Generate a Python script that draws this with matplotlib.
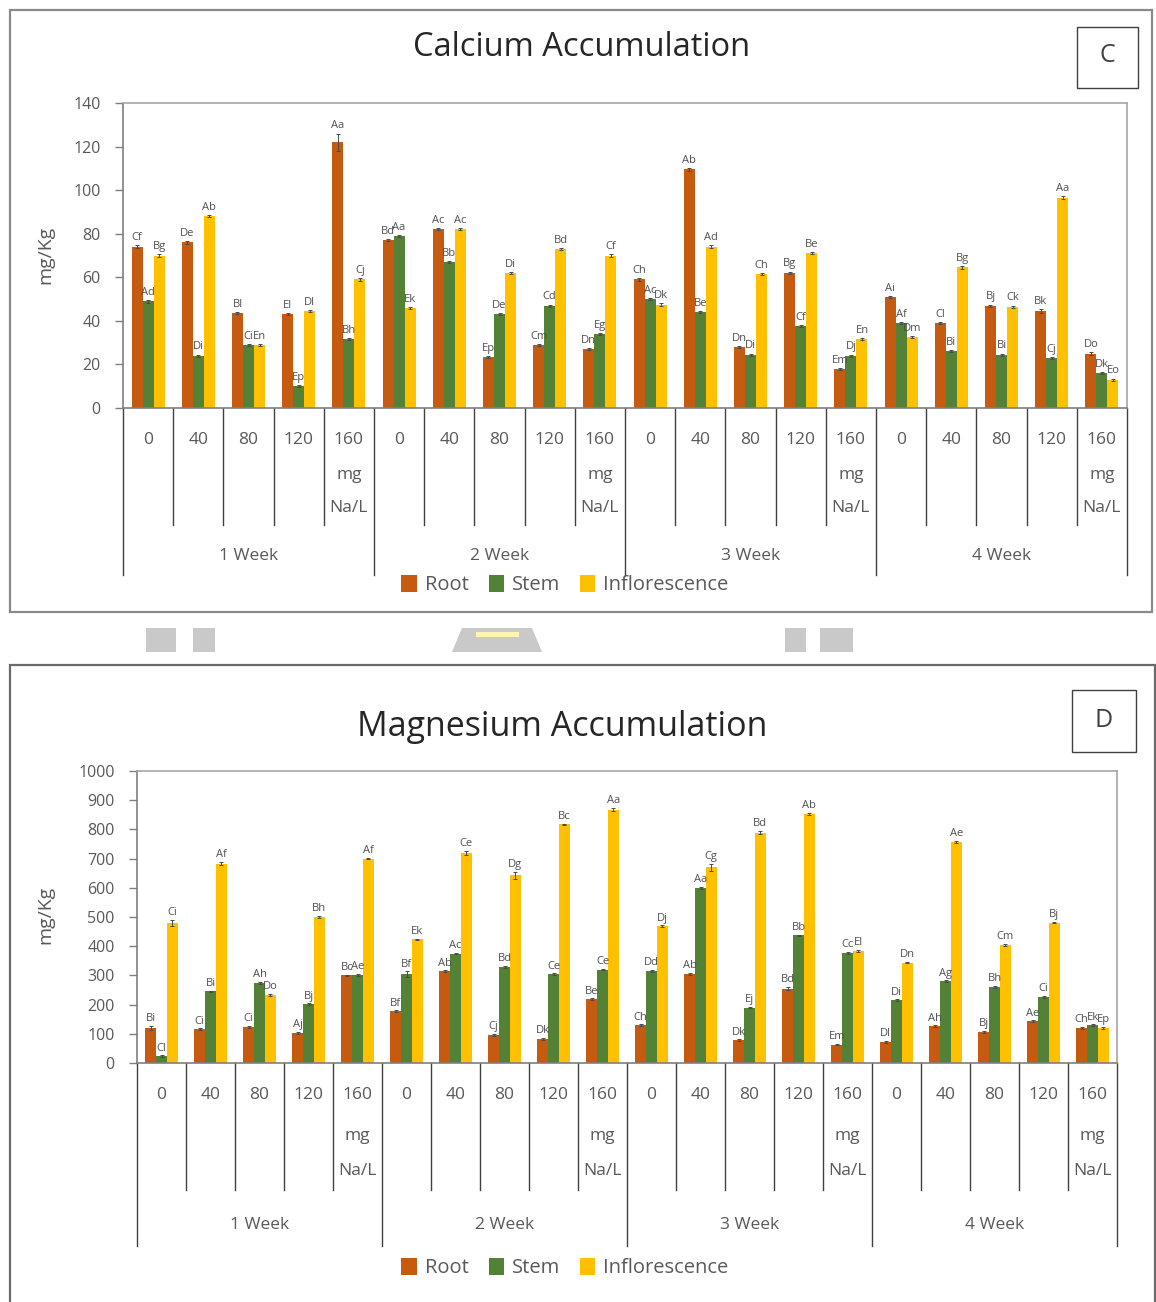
import matplotlib
matplotlib.use('Agg')
import matplotlib.pyplot as plt
from matplotlib.patches import Rectangle, Patch, Polygon
import numpy as np

plt.rcParams['font.family'] = ['Open Sans', 'DejaVu Sans']

# ---------------- data ----------------
weeks = ['1 Week', '2 Week', '3 Week', '4 Week']
doses = ['0', '40', '80', '120', '160']
unit_lines = ['mg', 'Na/L']
series = ['Root', 'Stem', 'Inflorescence']
colors = ['#C55A11', '#538135', '#FFC000']

ca_root = [74, 76, 43.5, 43, 122, 77, 82, 23.5, 29, 27, 59, 109.5, 28, 62, 18, 51, 39, 47, 44.5, 25]
ca_stem = [49, 24, 29, 10, 31.5, 79, 67, 43, 47, 34, 50, 44, 24.5, 37.5, 24, 39, 26, 24.5, 23, 16]
ca_infl = [70, 88, 29, 44.5, 59, 46, 82, 62, 73, 70, 47.5, 74, 61.5, 71, 31.5, 32.5, 64.5, 46.5, 96.5, 13]
ca_root_err = [0.6, 0.5, 0.5, 0.5, 4.0, 0.5, 0.5, 0.5, 0.5, 0.5, 0.6, 0.5, 0.5, 0.6, 0.5, 0.5, 0.5, 0.5, 0.8, 0.5]
ca_stem_err = [0.6, 0.5, 0.5, 0.5, 0.5, 0.5, 0.5, 0.5, 0.5, 0.5, 0.5, 0.5, 0.5, 0.5, 0.5, 0.5, 0.5, 0.5, 0.5, 0.5]
ca_infl_err = [0.6, 0.5, 0.5, 0.5, 0.5, 0.5, 0.5, 0.5, 0.5, 0.5, 0.5, 0.6, 0.5, 0.5, 0.5, 0.5, 0.5, 0.5, 0.6, 0.5]
ca_root_lab = ['Cf', 'De', 'Bl', 'El', 'Aa', 'Bd', 'Ac', 'Ep', 'Cm', 'Dn', 'Ch', 'Ab', 'Dn', 'Bg', 'Em', 'Ai', 'Cl', 'Bj', 'Bk', 'Do']
ca_stem_lab = ['Ad', 'Di', 'Ci', 'Ep', 'Bh', 'Aa', 'Bb', 'De', 'Cd', 'Eg', 'Ac', 'Be', 'Di', 'Cf', 'Dj', 'Af', 'Bi', 'Bi', 'Cj', 'Dk']
ca_infl_lab = ['Bg', 'Ab', 'En', 'Dl', 'Cj', 'Ek', 'Ac', 'Di', 'Bd', 'Cf', 'Dk', 'Ad', 'Ch', 'Be', 'En', 'Dm', 'Bg', 'Ck', 'Aa', 'Eo']

mg_root = [120, 116, 123, 103, 300, 177, 314, 97, 82, 218, 129, 306, 78, 255, 63, 72, 126, 106, 143, 121]
mg_stem = [23, 245, 274, 201, 302, 304, 375, 329, 304, 320, 315, 600, 190, 437, 378, 215, 280, 260, 226, 129]
mg_infl = [480, 683, 234, 500, 700, 423, 719, 643, 817, 868, 468, 671, 789, 854, 384, 344, 757, 405, 481, 120]
mg_root_err = [7, 3, 3, 3, 3, 3, 3, 3, 3, 3, 3, 3, 3, 5, 3, 3, 3, 3, 3, 3]
mg_stem_err = [3, 3, 3, 3, 3, 10, 3, 3, 3, 3, 3, 3, 3, 3, 3, 3, 3, 3, 3, 3]
mg_infl_err = [10, 5, 3, 3, 3, 3, 7, 12, 3, 5, 3, 12, 5, 3, 3, 3, 3, 3, 3, 3]
mg_root_lab = ['Bi', 'Ci', 'Ci', 'Aj', 'Bc', 'Bf', 'Ab', 'Cj', 'Dk', 'Be', 'Ch', 'Ab', 'Dk', 'Bd', 'Em', 'Dl', 'Ah', 'Bj', 'Ae', 'Ch']
mg_stem_lab = ['Cl', 'Bi', 'Ah', 'Bj', 'Ae', 'Bf', 'Ac', 'Bd', 'Ce', 'Ce', 'Dd', 'Aa', 'Ej', 'Bb', 'Cc', 'Di', 'Ag', 'Bh', 'Ci', 'Ek']
mg_infl_lab = ['Ci', 'Af', 'Do', 'Bh', 'Af', 'Ek', 'Ce', 'Dg', 'Bc', 'Aa', 'Dj', 'Cg', 'Bd', 'Ab', 'El', 'Dn', 'Ae', 'Cm', 'Bj', 'Ep']

# ---------------- figure ----------------
W, H = 1156, 1302
fig = plt.figure(figsize=(W / 100, H / 100), dpi=100)
fig.patch.set_facecolor('white')


def fx(x):
    return x / W


def fy(y):
    return 1 - y / H


GRAY = '#595959'


def draw_panel(ax, vals, errs, labs, ymax, ystep, ycat, yunit1, yunit2, yshort, yweek, ylong, lab_off):
    n = len(vals[0])
    x = np.arange(n)
    w = 0.22
    for k, (v, e, c) in enumerate(zip(vals, errs, colors)):
        xs = x + (k - 1) * w
        ax.bar(xs, v, w, color=c, yerr=e, zorder=2,
               error_kw=dict(ecolor='#4a4a4a', elinewidth=0.7, capsize=1.6, capthick=0.7))
        for xi, vi, ei, li in zip(xs, v, e, labs[k]):
            ax.text(xi, vi + ei + lab_off, li, ha='center', va='bottom',
                    fontsize=8, color='#505050', zorder=3)
    ax.set_xlim(-0.5, n - 0.5)
    ax.set_ylim(0, ymax)
    ax.set_yticks(np.arange(0, ymax + 1, ystep))
    ax.tick_params(axis='y', labelsize=11.5, colors=GRAY, length=6, width=1, direction='out', pad=10)
    ax.tick_params(axis='y', color='#7f7f7f')
    ax.set_xticks([])
    for s in ['top', 'right']:
        ax.spines[s].set_color('#a6a6a6')
        ax.spines[s].set_linewidth(1.2)
    for s in ['left', 'bottom']:
        ax.spines[s].set_color('#7f7f7f')
        ax.spines[s].set_linewidth(1.2)
    tr = ax.get_xaxis_transform()
    for i in range(n):
        ax.text(i, ycat, doses[i % 5], transform=tr, ha='center', va='center',
                fontsize=12.5, color=GRAY)
        if i % 5 == 4:
            ax.text(i, yunit1, unit_lines[0], transform=tr, ha='center', va='center',
                    fontsize=12.5, color=GRAY)
            ax.text(i, yunit2, unit_lines[1], transform=tr, ha='center', va='center',
                    fontsize=12.5, color=GRAY)
    for b in range(n + 1):
        xb = b - 0.5
        yend = ylong if b % 5 == 0 else yshort
        ax.plot([xb, xb], [0, yend], transform=tr, clip_on=False, color='#404040', lw=1)
    for wi, wk in enumerate(weeks):
        ax.text(wi * 5 + 2, yweek, wk, transform=tr, ha='center', va='center',
                fontsize=12.5, color=GRAY)


handles = [Patch(facecolor=c, edgecolor='none') for c in colors]

# ---------------- top panel: Calcium ----------------
fig.add_artist(Rectangle((fx(10), fy(612)), (1142) / W, 602 / H, transform=fig.transFigure,
                         fill=False, edgecolor='#8a8a8a', lw=1.6))
ax1 = fig.add_axes([fx(123), fy(408), 1004 / W, 305 / H])
draw_panel(ax1, [ca_root, ca_stem, ca_infl], [ca_root_err, ca_stem_err, ca_infl_err],
           [ca_root_lab, ca_stem_lab, ca_infl_lab], 140, 20,
           -0.105, -0.22, -0.328, -0.384, -0.485, -0.548, 1.0)
fig.text(fx(582), fy(48), 'Calcium Accumulation', ha='center', va='center', fontsize=23.5, color='#262626')
fig.text(fx(45), fy(255), 'mg/Kg', ha='center', va='center', rotation=90, fontsize=14, color=GRAY)
fig.add_artist(Rectangle((fx(1077), fy(88)), 61 / W, 61 / H, transform=fig.transFigure,
                         fill=False, edgecolor='#404040', lw=1))
fig.text(fx(1107), fy(55), 'C', ha='center', va='center', fontsize=18, color='#404040')
fig.legend(handles, series, loc='center', bbox_to_anchor=(fx(565), fy(585)), ncol=3, frameon=False,
           fontsize=14.5, handlelength=0.75, handleheight=0.9, columnspacing=1.0, handletextpad=0.4,
           labelcolor=GRAY)

# ---------------- watermark fragments between panels ----------------
wm = '#c9c9c9'
for (x0, x1) in [(146, 176), (193, 215), (785, 806), (820, 853)]:
    fig.add_artist(Rectangle((fx(x0), fy(652)), (x1 - x0) / W, 24 / H, transform=fig.transFigure,
                             facecolor=wm, edgecolor='none'))
fig.add_artist(Polygon([(fx(452), fy(652)), (fx(542), fy(652)), (fx(532), fy(628)), (fx(462), fy(628))],
                       closed=True, transform=fig.transFigure, facecolor=wm, edgecolor='none'))
fig.add_artist(Rectangle((fx(476), fy(637)), 43 / W, 5 / H, transform=fig.transFigure,
                         facecolor='#fff3b0', edgecolor='none'))

# ---------------- bottom panel: Magnesium ----------------
fig.add_artist(Rectangle((fx(10), fy(1320)), (1145) / W, 655 / H, transform=fig.transFigure,
                         fill=False, edgecolor='#6a6a6a', lw=1.6))
ax2 = fig.add_axes([fx(137), fy(1063), 980 / W, 292 / H])
draw_panel(ax2, [mg_root, mg_stem, mg_infl], [mg_root_err, mg_stem_err, mg_infl_err],
           [mg_root_lab, mg_stem_lab, mg_infl_lab], 1000, 100,
           -0.11, -0.25, -0.37, -0.435, -0.555, -0.625, 6)
fig.text(fx(562), fy(727), 'Magnesium Accumulation', ha='center', va='center', fontsize=24.5, color='#262626')
fig.text(fx(45), fy(915), 'mg/Kg', ha='center', va='center', rotation=90, fontsize=14, color=GRAY)
fig.add_artist(Rectangle((fx(1072), fy(752)), 64 / W, 62 / H, transform=fig.transFigure,
                         fill=False, edgecolor='#404040', lw=1))
fig.text(fx(1104), fy(720), 'D', ha='center', va='center', fontsize=18, color='#404040')
fig.legend(handles, series, loc='center', bbox_to_anchor=(fx(565), fy(1268)), ncol=3, frameon=False,
           fontsize=14.5, handlelength=0.75, handleheight=0.9, columnspacing=1.0, handletextpad=0.4,
           labelcolor=GRAY)

fig.savefig('out.png', dpi=100, facecolor='white')
